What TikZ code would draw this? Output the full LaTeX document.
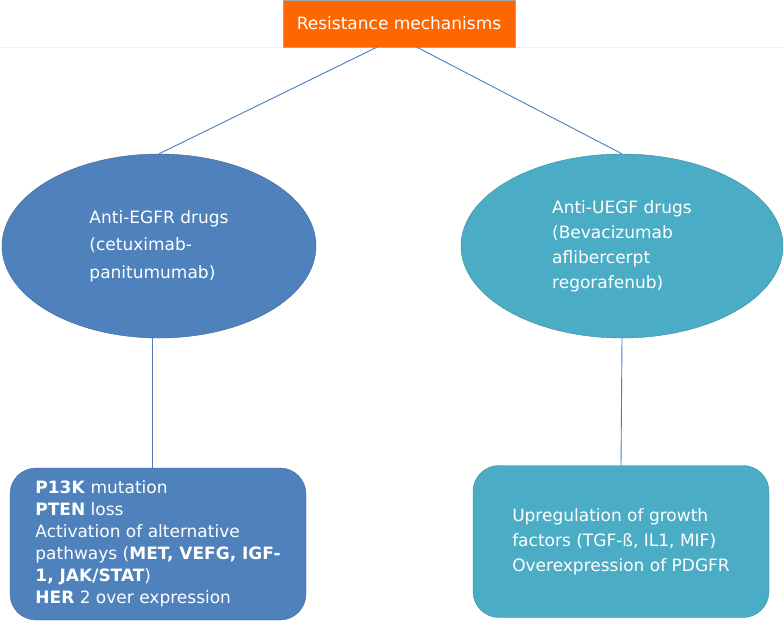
\documentclass[tikz,border=0pt]{standalone}
\usepackage{fontspec}
\setmainfont{DejaVu Sans}
\usetikzlibrary{shapes.geometric}
\definecolor{resorange}{HTML}{FF6600}
\definecolor{egfrblue}{HTML}{4F81BD}
\definecolor{vegfteal}{HTML}{4BACC6}
\definecolor{linkblue}{HTML}{4A7EBB}
\begin{document}
\begin{tikzpicture}[x=1pt,y=-1pt,
    link/.style={draw=linkblue, line width=0.9pt},
    drug/.style={ellipse, draw=#1!80!black, fill=#1, text=white, align=left, inner sep=0pt, minimum height=184pt},
    mech/.style={rectangle, rounded corners=26pt, draw=#1!80!black, fill=#1, text=white, align=left, inner sep=0pt, minimum width=296pt, minimum height=152pt}]
    \useasboundingbox (0,0) rectangle (783,622);
    % Faint rule under the title
    \draw[black!6] (0,47) -- (783,47);

    % Title box
    \node[draw=black!35, fill=resorange, text=white, inner sep=0pt, minimum width=232pt, minimum height=47pt,
          font=\fontsize{17}{20}\selectfont] (res) at (399,23.5) {Resistance mechanisms};

    % Drug groups
    \node[drug=egfrblue, minimum width=314pt, font=\fontsize{17}{27.5}\selectfont] (egfr) at (159,246)
        {Anti-EGFR drugs\\(cetuximab-\\panitumumab)};
    \node[drug=vegfteal, minimum width=322pt, font=\fontsize{17}{25}\selectfont] (vegf) at (622,246)
        {Anti-UEGF drugs\\(Bevacizumab\\aflibercerpt\\regorafenub)};

    % Mechanisms
    \node[mech=egfrblue, font=\fontsize{17}{22}\selectfont] (egfrmech) at (158,544)
        {\textbf{P13K} mutation\\\textbf{PTEN} loss\\Activation of alternative\\pathways (\textbf{MET, VEFG, IGF-}\\\textbf{1, JAK/STAT})\\\textbf{HER} 2 over expression};
    \node[mech=vegfteal, font=\fontsize{17}{25}\selectfont] (vegfmech) at (621,541.5)
        {Upregulation of growth\\factors (TGF-ß, IL1, MIF)\\Overexpression of PDGFR};

    % Connectors
    \draw[link] (res.227) -- (egfr.north);
    \draw[link] (res.307) -- (vegf.north);
    \draw[link] (egfr.266) -- (egfr.266 |- egfrmech.north);
    \draw[link] (vegf.south) -- (vegfmech.north);
\end{tikzpicture}
\end{document}
